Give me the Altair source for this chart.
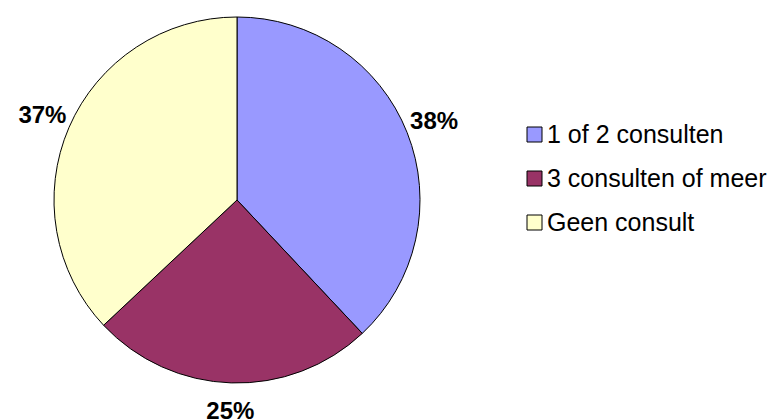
import altair as alt
import pandas as pd

categories = ["1 of 2 consulten", "3 consulten of meer", "Geen consult"]
values = [38, 25, 37]
labels = ["38%", "25%", "37%"]
colors = ["#9999FF", "#993366", "#FFFFCC"]

df = pd.DataFrame({"cat": categories, "val": values, "label": labels, "ord": [0, 1, 2]})

base = alt.Chart(df).encode(
    theta=alt.Theta("val:Q", stack=True),
    order=alt.Order("ord:Q"),
)

pie = base.mark_arc(radius=183, stroke="black", strokeWidth=1).encode(
    x=alt.value(229), y=alt.value(192),
    color=alt.Color(
        "cat:N",
        scale=alt.Scale(domain=categories, range=colors),
        legend=alt.Legend(
            title=None, orient="none", legendX=514, legendY=114,
            symbolType="square", symbolSize=225, symbolStrokeColor="black",
            symbolStrokeWidth=1, labelFontSize=25, labelFont="Liberation Sans",
            labelColor="black", rowPadding=18, labelOffset=0, symbolOpacity=1,
            labelLimit=400,
        ),
    ),
)

text = base.mark_text(radius=212, fontSize=24, fontWeight="bold",
                      font="Liberation Sans", color="black").encode(
    x=alt.value(229), y=alt.value(192),
    text="label:N",
)

chart = (pie + text).properties(
    width=764, height=411, padding=0,
    autosize=alt.AutoSizeParams(type="none"),
).configure_view(stroke=None)

chart.save("out.html", embed_options={"renderer": "svg", "actions": False})
